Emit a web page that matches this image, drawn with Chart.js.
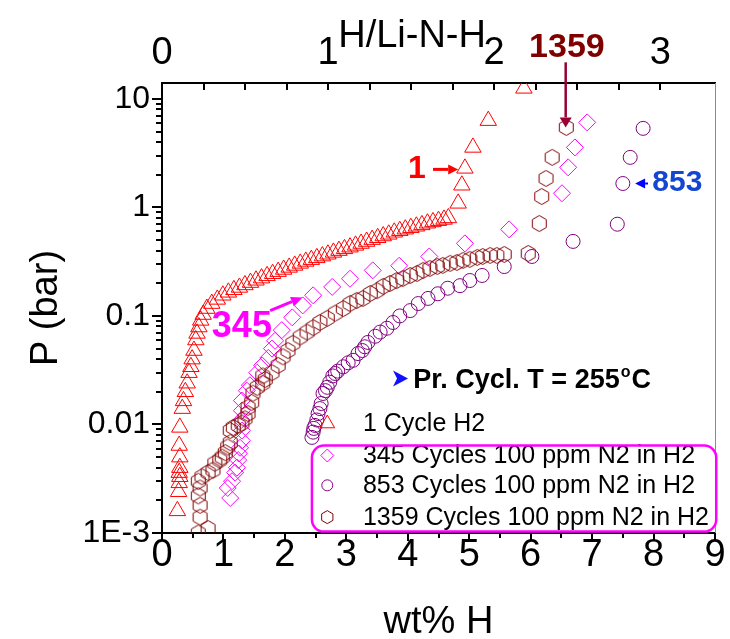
<!DOCTYPE html>
<html>
<head>
<meta charset="utf-8">
<script src="https://cdn.jsdelivr.net/npm/chart.js@4.4.1/dist/chart.umd.min.js"></script>
<style>
  html, body { margin: 0; padding: 0; background: #fff; }
  #wrap { width: 730px; height: 639px; }
</style>
</head>
<body>
<div id="wrap"><canvas id="c"></canvas></div>
<script>
// ---- data (wt% H, P in bar) ----
const cyc1X = [0.25, 0.27, 0.28, 0.29, 0.28, 0.29, 0.29, 0.28, 0.29, 0.33, 0.35, 0.38, 0.41, 0.44, 0.47, 0.49, 0.52, 0.55, 0.57, 0.60, 0.63, 0.67, 0.73, 0.81,
  0.90, 0.99, 1.08, 1.17, 1.26, 1.35, 1.44, 1.53, 1.62, 1.71, 1.80, 1.89, 1.98, 2.07, 2.16, 2.25, 2.34, 2.43, 2.52, 2.61, 2.70, 2.79, 2.88, 2.97,
  3.06, 3.15, 3.24, 3.33, 3.42, 3.51, 3.60, 3.69, 3.78, 3.87, 3.96, 4.05, 4.14, 4.23, 4.32, 4.41, 4.50, 4.59, 4.66,
  4.82, 4.88, 4.93, 5.06, 5.31, 5.89];
const cyc1Y = [0.0016, 0.0024, 0.0029, 0.0033, 0.0036, 0.0040, 0.0050, 0.0064, 0.0094, 0.014, 0.0165, 0.020, 0.024, 0.030, 0.034, 0.040, 0.048, 0.060, 0.069, 0.079, 0.091, 0.103, 0.117, 0.130,
  0.142, 0.155, 0.165, 0.174, 0.183, 0.193, 0.203, 0.213, 0.223, 0.234, 0.245, 0.256, 0.268, 0.280, 0.292, 0.305, 0.318, 0.330, 0.343, 0.356, 0.370, 0.385, 0.400, 0.415,
  0.430, 0.447, 0.465, 0.485, 0.505, 0.525, 0.545, 0.565, 0.590, 0.610, 0.630, 0.650, 0.670, 0.690, 0.715, 0.735, 0.755, 0.775, 0.800,
  1.09, 1.60, 2.29, 3.57, 6.30, 12.5];

const cyc345X = [1.11, 1.07, 1.14, 1.19, 1.22, 1.24, 1.25, 1.27, 1.30, 1.30, 1.29, 1.30, 1.30, 1.38, 1.43, 1.55, 1.63, 1.73, 1.79, 1.84, 1.95, 2.12, 2.29, 2.46,
  2.77, 3.06, 3.43, 3.86, 4.35, 4.93, 5.65, 6.51, 6.61, 6.72, 6.92];
const cyc345Y = [0.0021, 0.0026, 0.0030, 0.0036, 0.0040, 0.0047, 0.0054, 0.0061, 0.0071, 0.0088, 0.011, 0.0134, 0.0166, 0.0205, 0.023, 0.030, 0.035, 0.041, 0.050, 0.059, 0.074, 0.097, 0.125, 0.155,
  0.185, 0.220, 0.263, 0.290, 0.353, 0.466, 0.627, 1.35, 2.34, 3.57, 6.07];

const cyc853X = [2.44, 2.46, 2.47, 2.49, 2.52, 2.54, 2.57, 2.59, 2.62, 2.66, 2.69, 2.73, 2.78, 2.82, 2.86, 2.95, 3.03, 3.11, 3.19, 3.26, 3.30, 3.35,
  3.47, 3.55, 3.66, 3.76, 3.87, 4.04, 4.17, 4.33, 4.49, 4.65, 4.85, 5.01, 5.21, 5.57, 6.02, 6.69, 7.41, 7.50, 7.62, 7.83];
const cyc853Y = [0.0076, 0.0085, 0.0092, 0.0098, 0.0110, 0.0126, 0.0140, 0.0156, 0.0193, 0.0205, 0.0220, 0.0245, 0.0280, 0.0295, 0.0310, 0.0340, 0.0370, 0.0390, 0.0450, 0.0480, 0.0520, 0.0570,
  0.0650, 0.0710, 0.0770, 0.0870, 0.100, 0.112, 0.130, 0.145, 0.160, 0.180, 0.190, 0.212, 0.236, 0.285, 0.353, 0.486, 0.700, 1.66, 2.89, 5.35];

const cyc1359X = [0.59, 0.75, 0.62, 0.62, 0.59, 0.62, 0.59, 0.65, 0.75, 0.83, 0.86, 0.94, 0.98, 1.03, 1.07, 1.11, 1.11, 1.16, 1.24, 1.30, 1.35, 1.40, 1.40, 1.46, 1.48, 1.55,
  1.64, 1.68, 1.64, 1.79, 1.89, 1.97, 2.05, 2.13, 2.25, 2.36, 2.46, 2.57, 2.69, 2.82, 2.95, 3.06, 3.17, 3.27, 3.39, 3.50, 3.60, 3.71, 3.82, 3.92,
  4.04, 4.15, 4.25, 4.36, 4.48, 4.57, 4.69, 4.80, 4.90, 5.01, 5.13, 5.22, 5.34, 5.45, 5.57, 5.96, 6.14, 6.18, 6.25, 6.35, 6.58];
const cyc1359Y = [0.0010, 0.0011, 0.0014, 0.0018, 0.0022, 0.0026, 0.0030, 0.0033, 0.0036, 0.0038, 0.0044, 0.0047, 0.0050, 0.0055, 0.0062, 0.0068, 0.0088, 0.0094, 0.0098, 0.0103, 0.0113, 0.0126, 0.0144, 0.016, 0.0194, 0.022,
  0.024, 0.026, 0.028, 0.030, 0.035, 0.042, 0.048, 0.056, 0.064, 0.071, 0.078, 0.087, 0.095, 0.106, 0.117, 0.130, 0.139, 0.145, 0.161, 0.171, 0.187, 0.199, 0.212, 0.221,
  0.236, 0.246, 0.263, 0.274, 0.286, 0.292, 0.305, 0.311, 0.325, 0.332, 0.346, 0.353, 0.361, 0.361, 0.369, 0.377, 0.71, 1.26, 1.85, 2.89, 5.46];

const seriesLabels = ['1 Cycle H2', '345 Cycles 100 ppm N2 in H2', '853 Cycles 100 ppm N2 in H2', '1359 Cycles 100 ppm N2 in H2'];
const yTickVals = [0.001, 0.01, 0.1, 1, 10];
const yTickText = ['1E-3', '0.01', '0.1', '1', '10'];

const FONT = "'Liberation Sans', Arial, Helvetica, sans-serif";
const RED = '#ff0000', MAG = '#ff00ff', PUR = '#800080', MAR = '#800000';

const pts = (xs, ys) => xs.map((x, i) => ({ x, y: ys[i] }));

function hexPath(g, cx, cy, r) {
  g.beginPath();
  for (let k = 0; k < 6; k++) {
    const a = -Math.PI / 2 + k * Math.PI / 3;
    const px = cx + r * Math.cos(a), py = cy + r * Math.sin(a);
    k ? g.lineTo(px, py) : g.moveTo(px, py);
  }
  g.closePath();
}
function hexagon(r, color) {
  const s = Math.ceil(r * 2 + 3);
  const c = document.createElement('canvas');
  c.width = s; c.height = s;
  const g = c.getContext('2d');
  g.strokeStyle = color; g.lineWidth = 1;
  hexPath(g, s / 2, s / 2, r);
  g.stroke();
  return c;
}

function arrow(ctx, x1, y1, x2, y2, color, lw, hl, hw) {
  const a = Math.atan2(y2 - y1, x2 - x1);
  const bx = x2 - hl * Math.cos(a), by = y2 - hl * Math.sin(a);
  ctx.strokeStyle = color; ctx.fillStyle = color; ctx.lineWidth = lw;
  ctx.beginPath(); ctx.moveTo(x1, y1); ctx.lineTo(bx, by); ctx.stroke();
  ctx.beginPath();
  ctx.moveTo(x2, y2);
  ctx.lineTo(bx + hw * Math.sin(a), by - hw * Math.cos(a));
  ctx.lineTo(bx - hw * Math.sin(a), by + hw * Math.cos(a));
  ctx.closePath(); ctx.fill();
}

function legendSymbol(ctx, i, cx, cy) {
  ctx.lineWidth = 1;
  ctx.beginPath();
  if (i === 0) {
    const r = 8.5;
    ctx.strokeStyle = RED;
    ctx.moveTo(cx, cy - r);
    ctx.lineTo(cx + r * 0.866, cy + r / 2);
    ctx.lineTo(cx - r * 0.866, cy + r / 2);
    ctx.closePath();
  } else if (i === 1) {
    const r = 6.5;
    ctx.strokeStyle = MAG;
    ctx.moveTo(cx - r, cy); ctx.lineTo(cx, cy - r); ctx.lineTo(cx + r, cy); ctx.lineTo(cx, cy + r);
    ctx.closePath();
  } else if (i === 2) {
    ctx.strokeStyle = PUR;
    ctx.arc(cx, cy, 5.5, 0, Math.PI * 2);
  } else {
    ctx.strokeStyle = MAR;
    hexPath(ctx, cx, cy, 6.5);
  }
  ctx.stroke();
}

// annotations and frame, positioned in data units
const decor = {
  id: 'decor',
  afterDraw(chart) {
    const { ctx, chartArea: a, scales } = chart;
    const X = v => scales.x.getPixelForValue(v);
    const Y = v => scales.y.getPixelForValue(v);
    ctx.save();

    // right frame line
    ctx.strokeStyle = '#8a8a8a'; ctx.lineWidth = 1;
    ctx.beginPath(); ctx.moveTo(Math.round(a.right) + 0.5, a.top); ctx.lineTo(Math.round(a.right) + 0.5, a.bottom); ctx.stroke();

    // tick marks
    ctx.strokeStyle = '#000'; ctx.lineWidth = 2;
    ctx.beginPath();
    scales.y.ticks.forEach(t => {
      const e = Math.floor(Math.log10(t.value) + 1e-9);
      const m = t.value / Math.pow(10, e);
      if (Math.abs(m - Math.round(m)) > 1e-6) return;
      const len = Math.round(m) === 1 || Math.round(m) === 10 ? 10 : 6;
      const py = Math.round(Y(t.value));
      ctx.moveTo(a.left - len, py); ctx.lineTo(a.left, py);
    });
    scales.x.ticks.forEach(t => {
      const len = Number.isInteger(t.value) ? 8 : 5;
      const px = Math.round(X(t.value));
      ctx.moveTo(px, a.bottom); ctx.lineTo(px, a.bottom + len);
    });
    scales.x2.ticks.forEach(t => {
      if (Math.abs(t.value * 4 - Math.round(t.value * 4)) > 1e-6) return;
      const px = Math.round(scales.x2.getPixelForValue(t.value));
      ctx.moveTo(px, a.top); ctx.lineTo(px, a.top + 7);
    });
    ctx.stroke();

    // axis titles
    ctx.fillStyle = '#000';
    ctx.font = `38px ${FONT}`;
    ctx.textAlign = 'center'; ctx.textBaseline = 'alphabetic';
    ctx.fillText('wt% H', (a.left + a.right) / 2, 633);
    ctx.fillText('H/Li-N-H', X(4.07), 47);
    ctx.save();
    ctx.translate(57, (a.top + a.bottom) / 2);
    ctx.rotate(-Math.PI / 2);
    ctx.fillText('P (bar)', 0, 0);
    ctx.restore();

    // cycle labels with arrows
    ctx.textAlign = 'center';
    ctx.font = `bold 32px ${FONT}`; ctx.fillStyle = RED;
    ctx.fillText('1', X(4.15), Y(1.85));
    arrow(ctx, X(4.41), Y(2.24), X(4.82), Y(2.24), RED, 3, 10, 5);

    ctx.font = `bold 36px ${FONT}`; ctx.fillStyle = MAG;
    ctx.fillText('345', X(1.30), Y(0.0634));
    arrow(ctx, X(1.76), Y(0.112), X(2.28), Y(0.148), MAG, 3, 11, 5);

    ctx.font = `bold 34px ${FONT}`; ctx.fillStyle = MAR;
    ctx.fillText('1359', X(6.59), Y(24.1));
    arrow(ctx, X(6.57), Y(21.7), X(6.57), Y(5.46), '#990033', 2.5, 10, 6);

    ctx.textAlign = 'left';
    ctx.font = `bold 30px ${FONT}`; ctx.fillStyle = '#1446d2';
    ctx.fillText('853', X(7.98), Y(1.43));
    arrow(ctx, X(7.91), Y(1.66), X(7.70), Y(1.66), '#0000ff', 2, 10, 5);

    // cycling temperature note
    const ax = X(3.76), ay = Y(0.0265);
    ctx.fillStyle = '#1010ff';
    ctx.beginPath();
    ctx.moveTo(ax, ay - 8); ctx.lineTo(ax + 15, ay); ctx.lineTo(ax, ay + 8); ctx.lineTo(ax + 4, ay);
    ctx.closePath(); ctx.fill();
    let tx = X(4.09);
    const ty = Y(0.0219);
    ctx.fillStyle = '#000';
    ctx.font = `bold 27px ${FONT}`;
    ctx.fillText('Pr. Cycl. T = 255', tx, ty);
    tx += ctx.measureText('Pr. Cycl. T = 255').width;
    ctx.font = `bold 16px ${FONT}`;
    ctx.fillText('o', tx + 1, ty - 11);
    tx += ctx.measureText('o').width + 2;
    ctx.font = `bold 27px ${FONT}`;
    ctx.fillText('C', tx, ty);

    // legend
    const rowY = [0.0102, 0.00518, 0.00275, 0.00140];
    ctx.font = `25px ${FONT}`;
    ctx.textBaseline = 'middle';
    rowY.forEach((v, i) => {
      legendSymbol(ctx, i, X(2.69), Y(v));
      ctx.fillStyle = '#000';
      ctx.fillText(seriesLabels[i], X(3.27), Y(v) + 1);
    });
    const bx0 = X(2.44), bx1 = X(9.02), by0 = Y(0.0064), by1 = Y(0.00103), r = 12;
    ctx.strokeStyle = MAG; ctx.lineWidth = 2.5;
    ctx.beginPath();
    ctx.moveTo(bx0 + r, by0);
    ctx.arcTo(bx1, by0, bx1, by1, r);
    ctx.arcTo(bx1, by1, bx0, by1, r);
    ctx.arcTo(bx0, by1, bx0, by0, r);
    ctx.arcTo(bx0, by0, bx1, by0, r);
    ctx.closePath(); ctx.stroke();

    ctx.restore();
  }
};

const tickFont = size => ({ family: FONT, size });

new Chart(document.getElementById('c'), {
  type: 'scatter',
  data: {
    datasets: [
      { label: seriesLabels[0], data: pts(cyc1X, cyc1Y), pointStyle: 'triangle', pointRadius: 9.5, borderColor: RED, order: 3 },
      { label: seriesLabels[1], data: pts(cyc345X, cyc345Y), pointStyle: 'rectRot', pointRadius: 8.5, borderColor: MAG, order: 2 },
      { label: seriesLabels[2], data: pts(cyc853X, cyc853Y), pointStyle: 'circle', pointRadius: 7, borderColor: PUR, order: 1 },
      { label: seriesLabels[3], data: pts(cyc1359X, cyc1359Y), pointStyle: hexagon(8, MAR), pointRadius: 8, borderColor: MAR, order: 0 },
    ],
  },
  options: {
    responsive: true, maintainAspectRatio: false, animation: false,
    layout: { padding: { left: 0, right: 15, top: 0, bottom: 0 } },
    elements: { point: { backgroundColor: 'rgba(0,0,0,0)', borderWidth: 1, hoverRadius: 8, hoverBorderWidth: 1 } },
    plugins: { legend: { display: false }, tooltip: { enabled: false } },
    scales: {
      x: {
        type: 'linear', position: 'bottom', min: 0, max: 9,
        afterFit: s => { s.height = 106; },
        grid: { display: false, drawTicks: false },
        border: { color: '#000', width: 2 },
        ticks: { stepSize: 0.5, autoSkip: false, maxRotation: 0, padding: 0, color: '#000', font: tickFont(38),
          callback: v => Number.isInteger(v) ? String(v) : '' },
      },
      x2: {
        type: 'linear', position: 'top', min: 0, max: 3.33,
        afterFit: s => { s.height = 83; },
        grid: { display: false, drawTicks: false },
        border: { color: '#000', width: 2 },
        ticks: { stepSize: 0.25, autoSkip: false, maxRotation: 0, padding: 7, color: '#000', font: tickFont(38),
          callback: v => Number.isInteger(v) ? String(v) : '' },
      },
      y: {
        type: 'logarithmic', min: 0.001, max: 14,
        afterFit: s => { s.width = 162; },
        grid: { display: false, drawTicks: false },
        border: { color: '#000', width: 2 },
        ticks: { autoSkip: false, padding: 12, color: '#000', font: tickFont(32),
          callback: v => {
            const i = yTickVals.findIndex(t => Math.abs(Math.log10(t) - Math.log10(v)) < 1e-6);
            return i >= 0 ? yTickText[i] : '';
          } },
      },
    },
  },
  plugins: [decor],
});
</script>
</body>
</html>
